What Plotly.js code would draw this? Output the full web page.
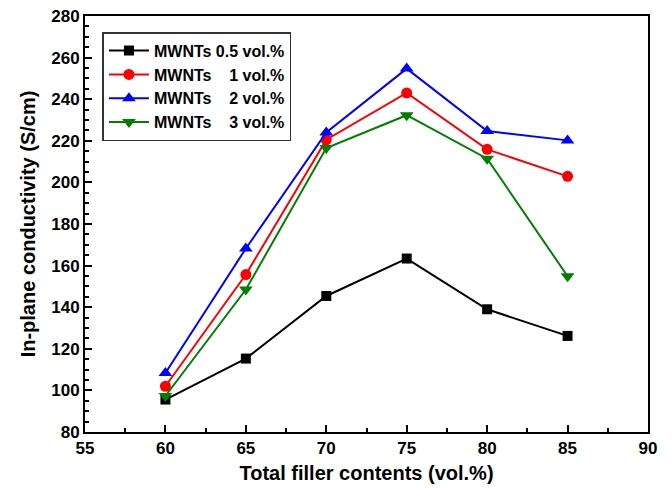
<!DOCTYPE html>
<html>
<head>
<meta charset="utf-8">
<script src="https://cdn.plot.ly/plotly-3.0.1.min.js"></script>
<style>html,body{margin:0;padding:0;background:#fff;}#chart{width:672px;height:489px;}</style>
</head>
<body>
<div id="chart"></div>
<script>
const fillerContents = [60, 65, 70, 75, 80, 85];
const mwnt05 = [95.6, 115.3, 145.4, 163.4, 139.0, 126.2];
const mwnt1 = [102.0, 155.7, 220.5, 243.0, 215.9, 202.9];
const mwnt2 = [108.4, 168.2, 224.0, 254.7, 224.7, 220.2];
const mwnt3 = [97.3, 148.5, 216.5, 232.3, 211.4, 154.9];
const seriesNames = [
  "MWNTs 0.5 vol.%",
  "MWNTs \u00A0\u00A0\u00A01 vol.%",
  "MWNTs \u00A0\u00A0\u00A02 vol.%",
  "MWNTs \u00A0\u00A0\u00A03 vol.%"
];
const xTickVals = [55, 60, 65, 70, 75, 80, 85, 90];
const yTickVals = [80, 100, 120, 140, 160, 180, 200, 220, 240, 260, 280];

const font = "Liberation Sans, Arial, sans-serif";
function mk(y, name, color, symbol, size) {
  return {
    x: fillerContents, y: y, name: name, type: "scatter", mode: "lines+markers",
    line: {color: color, width: 2},
    marker: {color: color, symbol: symbol, size: size}
  };
}
const data = [
  mk(mwnt05, seriesNames[0], "#000000", "square", 10),
  mk(mwnt1, seriesNames[1], "#ff0000", "circle", 11),
  mk(mwnt2, seriesNames[2], "#0000ff", "triangle-up", 12),
  mk(mwnt3, seriesNames[3], "#008000", "triangle-down", 12)
];
const layout = {
  width: 672, height: 489,
  margin: {l: 85, r: 24, t: 16, b: 57},
  paper_bgcolor: "#fff", plot_bgcolor: "#fff",
  font: {family: font, color: "#000"},
  showlegend: true,
  legend: {
    x: 0.031, y: 0.961, xanchor: "left", yanchor: "top",
    bgcolor: "#fff", bordercolor: "#333", borderwidth: 1.5,
    font: {family: font, size: 16, color: "#000", weight: "bold"},
    tracegroupgap: 0, itemwidth: 40
  },
  xaxis: {
    range: [55, 90], tickvals: xTickVals, ticktext: xTickVals.map(String),
    ticks: "inside", ticklen: 7, tickwidth: 2, tickcolor: "#000",
    minor: {dtick: 2.5, ticks: "inside", ticklen: 4, tickwidth: 2, tickcolor: "#000"},
    showline: true, linecolor: "#000", linewidth: 2, mirror: true,
    showgrid: false, zeroline: false,
    tickfont: {family: font, size: 17, color: "#000", weight: "bold"},
    title: {text: "Total filler contents (vol.%)", font: {family: font, size: 20, color: "#000", weight: "bold"}, standoff: 9}
  },
  yaxis: {
    range: [80, 280], tickvals: yTickVals, ticktext: yTickVals.map(String),
    ticks: "inside", ticklen: 7, tickwidth: 2, tickcolor: "#000",
    minor: {dtick: 5, ticks: "inside", ticklen: 4, tickwidth: 2, tickcolor: "#000"},
    showline: true, linecolor: "#000", linewidth: 2, mirror: true,
    showgrid: false, zeroline: false,
    tickfont: {family: font, size: 17, color: "#000", weight: "bold"},
    title: {text: "In-plane conductivity (S/cm)", font: {family: font, size: 20, color: "#000", weight: "bold"}, standoff: 10}
  }
};
Plotly.newPlot("chart", data, layout, {displayModeBar: false, staticPlot: true});
</script>
</body>
</html>
